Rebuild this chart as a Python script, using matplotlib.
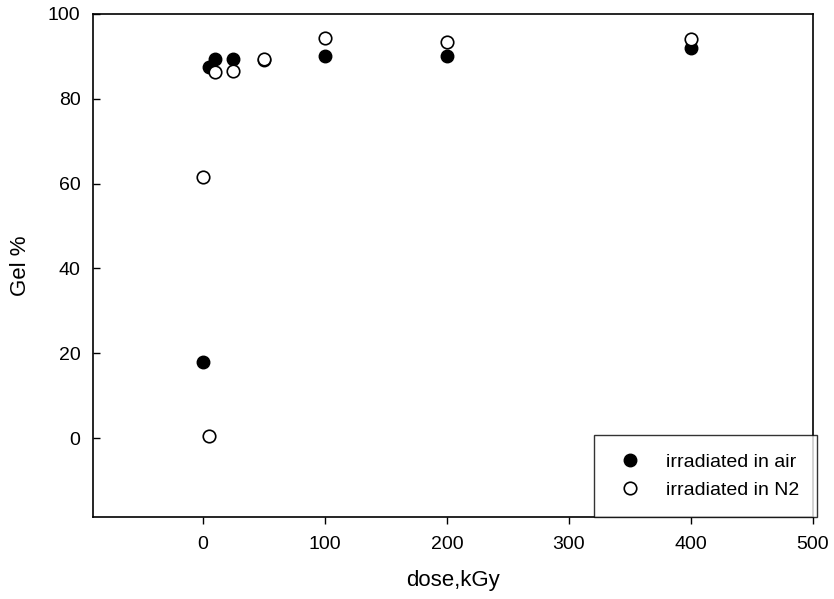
import numpy as np
import matplotlib.pyplot as plt

plt.rcParams['font.family'] = ['Liberation Sans', 'DejaVu Sans']

dose_air = [0, 5, 10, 25, 50, 100, 200, 400]
gel_air = [17.9, 87.4, 89.4, 89.4, 89.2, 90.2, 90.0, 92.1]

dose_n2 = [0, 5, 10, 25, 50, 100, 200, 400]
gel_n2 = [61.5, 0.6, 86.4, 86.5, 89.5, 94.3, 93.3, 94.2]

fig = plt.figure(figsize=(8.34, 5.99), dpi=100)
ax = fig.add_axes([93 / 834, 1 - 517 / 599, (813 - 93) / 834, (517 - 14) / 599])

ax.plot(dose_air, gel_air, 'o', color='black', markersize=9,
        linestyle='none', label='irradiated in air', zorder=3)
ax.plot(dose_n2, gel_n2, 'o', markerfacecolor='white', markeredgecolor='black',
        markeredgewidth=1.2, markersize=9, linestyle='none',
        label='irradiated in N2', zorder=4)

ax.set_xlim(-90, 500)
ax.set_ylim(-18.6, 100)
ax.set_xticks([0, 100, 200, 300, 400, 500])
ax.set_yticks([0, 20, 40, 60, 80, 100])
ax.tick_params(axis='x', direction='out', length=5, width=1, labelsize=14, pad=9)
ax.tick_params(axis='y', direction='in', length=5, width=1, labelsize=14, pad=9)
for s in ax.spines.values():
    s.set_linewidth(1.2)

ax.set_xlabel('dose,kGy', fontsize=16, labelpad=12)
ax.set_ylabel('Gel %', fontsize=16, labelpad=12)

leg = ax.legend(loc='lower right', bbox_to_anchor=(1.006, 0.0), fontsize=14,
                frameon=True, fancybox=False, edgecolor='black',
                borderpad=0.95, handletextpad=0.9, labelspacing=0.5,
                borderaxespad=0.0, handlelength=1.85)
leg.get_frame().set_linewidth(1.0)

fig.savefig('out.png', dpi=100)
